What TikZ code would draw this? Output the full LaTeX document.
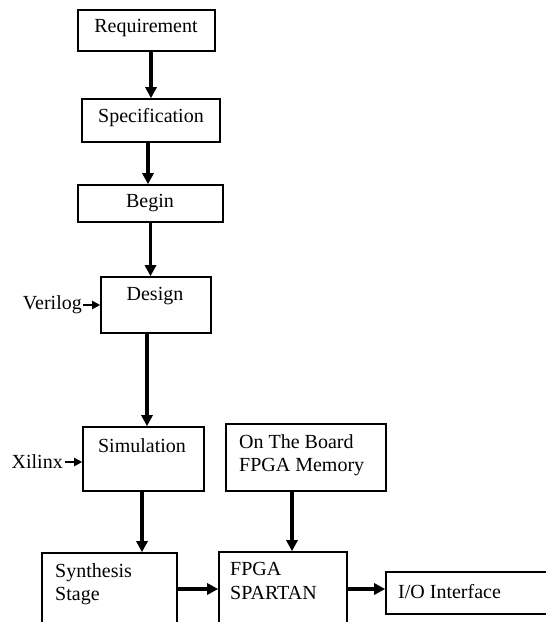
\documentclass[tikz,border=0pt]{standalone}
\usepackage{fontspec}
\setmainfont{Liberation Serif}
\usetikzlibrary{arrows.meta}
\begin{document}
\begin{tikzpicture}[x=1pt,y=-1pt,
  box/.style={draw=black, line width=1.6pt, inner sep=0pt, fill=white},
  txt/.style={inner sep=0pt, font=\fontsize{20}{23.5}\selectfont, align=left},
  arr/.style={line width=3.2pt, -{Triangle[length=11pt,width=11pt]}},
  sarr/.style={line width=2.4pt, -{Triangle[length=8pt,width=8pt]}}]
\useasboundingbox (0,0) rectangle (546,622);
\clip (0,0) rectangle (546,622);
% boxes
\node[box, minimum width=137, minimum height=41] (req) at (146.5,30.5) {};
\node[box, minimum width=138, minimum height=43] (spec) at (151,120.5) {};
\node[box, minimum width=145, minimum height=37] (begin) at (150.5,203.5) {};
\node[box, minimum width=110, minimum height=56] (design) at (156,305) {};
\node[box, minimum width=121, minimum height=64] (sim) at (143.5,459) {};
\node[box, minimum width=160, minimum height=67] (mem) at (306,457.5) {};
\node[box, minimum width=135, minimum height=72] (synth) at (109.5,589) {};
\node[box, minimum width=128, minimum height=74] (fpga) at (283,589) {};
\node[box, minimum width=180, minimum height=42] (io) at (476,593) {};
% texts
\node[txt] (treq) at (146,28) {Requirement};
\node[txt] (tspec) at (151,118) {Specification};
\node[txt] (tbegin) at (150,203) {Begin};
\node[txt] (tdesign) at (155,296) {Design};
\node[txt] (tsim) at (142,446) {Simulation};
\node[txt, anchor=west] (tmem) at (239,455) {On The Board\\FPGA Memory};
\node[txt, anchor=west] (tsynth) at (55,584) {Synthesis\\Stage};
\node[txt, anchor=west] (tfpga) at (230,581) {FPGA\\SPARTAN};
\node[txt, anchor=west] (tio) at (398,592) {I/O Interface};
\node[txt, anchor=east] (verilog) at (82,305) {Verilog};
\node[txt, anchor=east] (xilinx) at (63,462) {Xilinx};
% connectors
\draw[arr] (req.south -| spec.north) -- (spec.north);
\draw[arr] ([xshift=-3pt]spec.south) -- ([xshift=-3pt]spec.south |- begin.north);
\draw[arr] (begin.south) -- (begin.south |- design.north);
\draw[arr] ([xshift=-9pt]design.south) -- ([xshift=-9pt]design.south |- sim.north);
\draw[arr] ([xshift=-1.5pt]sim.south) -- ([xshift=-1.5pt]sim.south |- synth.north);
\draw[arr] ([xshift=-14pt]mem.south) -- ([xshift=-14pt]mem.south |- fpga.north);
\draw[arr] (synth.east) -- (fpga.west);
\draw[arr] (fpga.east) -- (fpga.east -| io.west);
\draw[sarr] ([xshift=1pt]verilog.east) -- (verilog.east -| design.west);
\draw[sarr] ([xshift=2pt]xilinx.east) -- (xilinx.east -| sim.west);
\end{tikzpicture}
\end{document}
